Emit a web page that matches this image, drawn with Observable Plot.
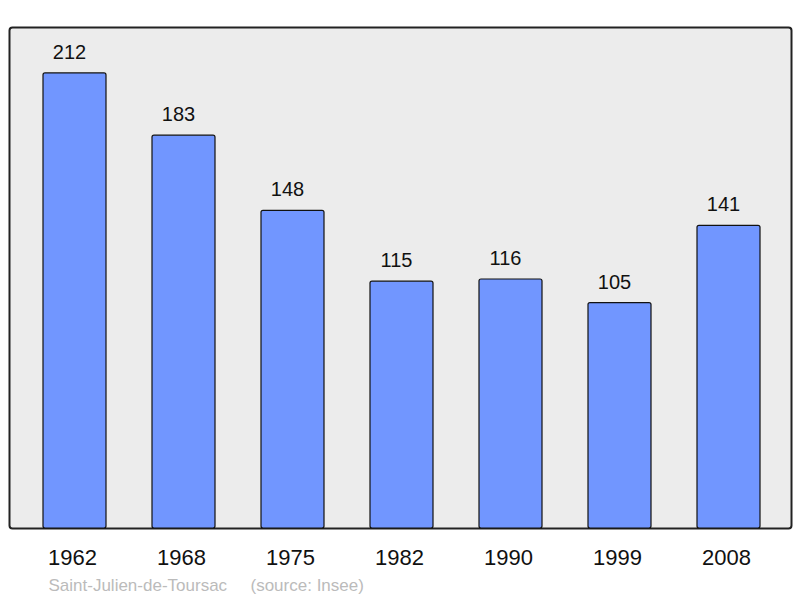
<!DOCTYPE html>
<html>
<head>
<meta charset="utf-8">
<script src="https://cdn.jsdelivr.net/npm/d3@7"></script>
<script src="https://cdn.jsdelivr.net/npm/@observablehq/plot@0.6"></script>
<style>
  html, body { margin: 0; padding: 0; background: #ffffff; }
  body { width: 800px; height: 598px; overflow: hidden; font-family: "Liberation Sans", Arial, sans-serif; }
  svg { display: block; }
</style>
</head>
<body>
<div id="chart"></div>
<script>
const years = ["1962", "1968", "1975", "1982", "1990", "1999", "2008"];
const population = [212, 183, 148, 115, 116, 105, 141];
const captionName = "Saint-Julien-de-Toursac";
const captionSource = "(source: Insee)";

const data = years.map((y, i) => ({year: y, value: population[i]}));

const chart = Plot.plot({
  width: 800,
  height: 598,
  marginTop: 27,
  marginBottom: 70,
  marginLeft: 9,
  marginRight: 9,
  style: {fontFamily: "Liberation Sans, Arial, sans-serif", background: "#ffffff", overflow: "visible"},
  x: {domain: years, range: [42, 761], paddingInner: 0.424, paddingOuter: 0, axis: null, label: null},
  y: {domain: [0, 233.4], axis: null, label: null},
  marks: [
    Plot.frame({fill: "#ececec", stroke: "#222222", strokeWidth: 2, rx: 3}),
    Plot.barY(data, {x: "year", y: "value", fill: "#7196ff", stroke: "#111111", strokeWidth: 1.2, rx: 2}),
    Plot.text(data, {x: "year", y: "value", text: d => String(d.value), dx: -5.5, dy: -14.5, lineAnchor: "bottom", fontSize: 20, fill: "#111111"}),
    Plot.axisX({domain: years, label: null, tickSize: 0, tickPadding: 21, dx: -2.5, fontSize: 22, fill: "#111111", lineAnchor: "top"}),
    Plot.text([captionName], {frameAnchor: "bottom-left", text: d => d, dx: 39, dy: 62, textAnchor: "start", lineAnchor: "bottom", fontSize: 17, fill: "#bbbbbb"}),
    Plot.text([captionSource], {frameAnchor: "bottom-left", text: d => d, dx: 241, dy: 62, textAnchor: "start", lineAnchor: "bottom", fontSize: 17, fill: "#bbbbbb"})
  ]
});
document.getElementById("chart").appendChild(chart);
</script>
</body>
</html>
